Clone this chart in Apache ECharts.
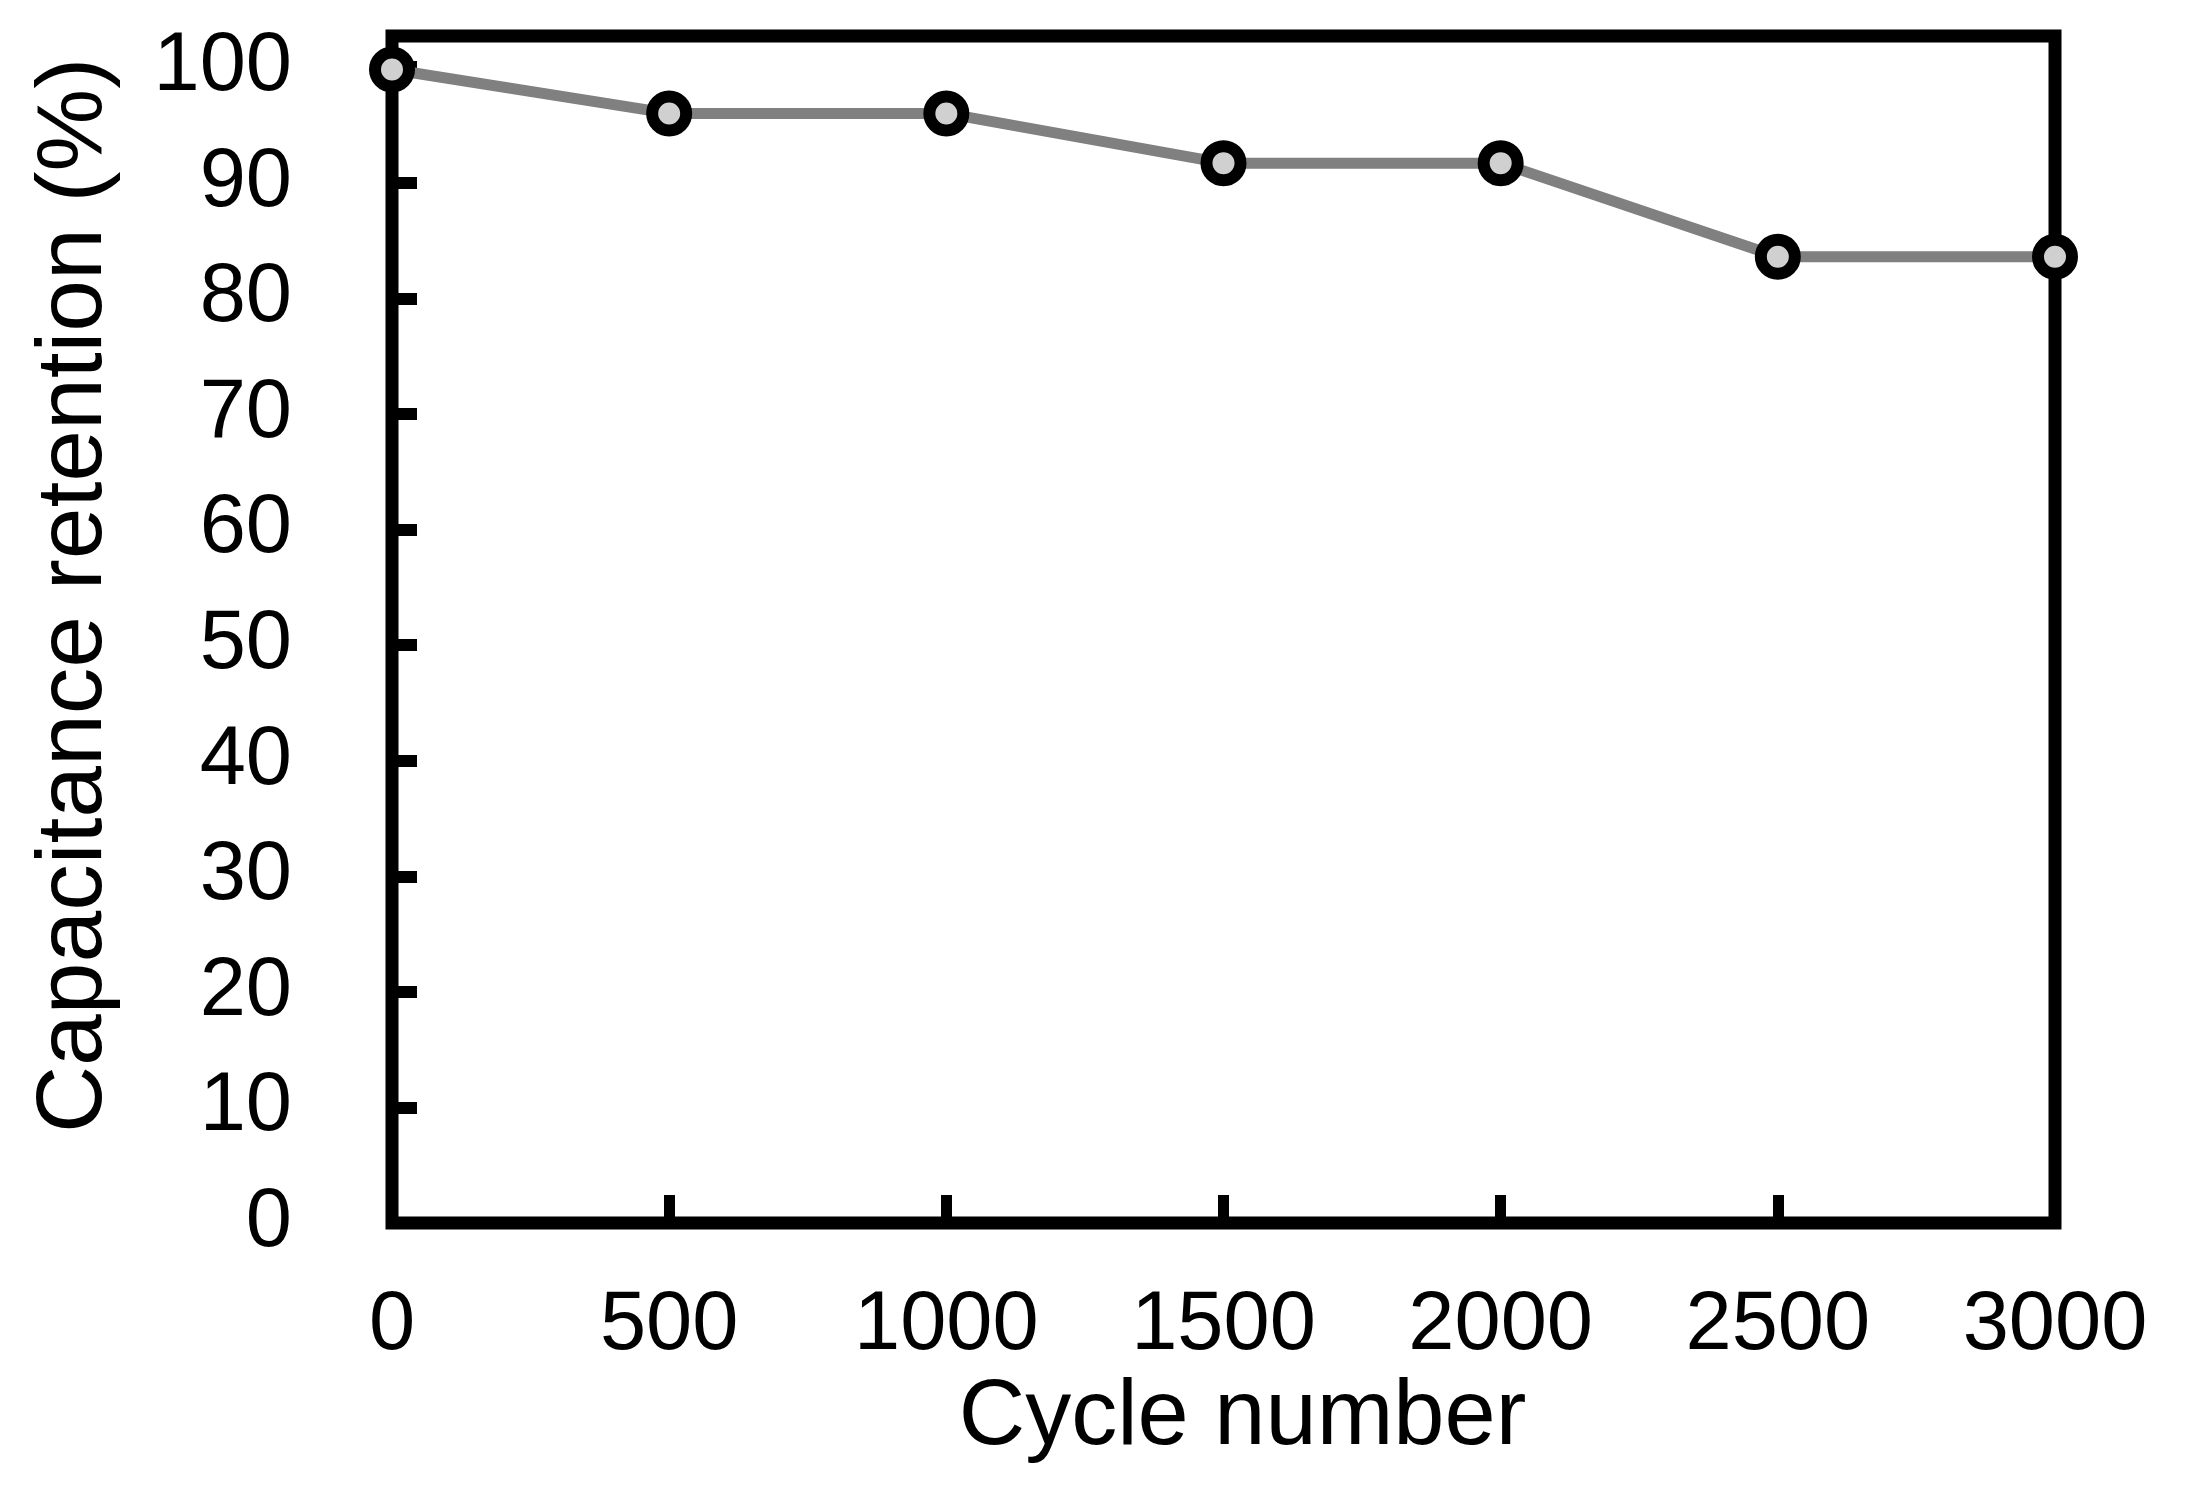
<!DOCTYPE html>
<html>
<head>
<meta charset="utf-8">
<script src="https://cdn.jsdelivr.net/npm/echarts@6/dist/echarts.min.js"></script>
<style>
html,body{margin:0;padding:0;background:#fff;}
#chart{width:2189px;height:1491px;}
</style>
</head>
<body>
<div id="chart"></div>
<script>
var cycles = [0, 500, 1000, 1500, 2000, 2500, 3000];
var retention = [99.8, 96.0, 96.0, 91.7, 91.7, 83.6, 83.6];
var xTitle = 'Cycle number';
var yTitle = 'Capacitance retention (%)';

var chart = echarts.init(document.getElementById('chart'));
var font = 'Liberation Sans, Arial, sans-serif';
chart.setOption({
  animation: false,
  backgroundColor: '#ffffff',
  grid: {
    left: 392, right: 134, top: 36, bottom: 268,
    show: true, borderColor: '#000', borderWidth: 13, backgroundColor: 'transparent'
  },
  xAxis: {
    type: 'value', min: 0, max: 3000, interval: 500,
    name: xTitle, nameLocation: 'middle', nameGap: 150,
    nameTextStyle: { fontFamily: font, fontSize: 92, color: '#000', padding: [0, 0, 0, 38] },
    axisLine: { show: false },
    axisTick: { show: true, inside: true, length: 28, lineStyle: { color: '#000', width: 11 } },
    axisLabel: { fontFamily: font, fontSize: 83, color: '#000', margin: 62,
      formatter: function (v) { return String(v); } },
    splitLine: { show: false }
  },
  yAxis: {
    type: 'value', min: 0, max: 102.7, interval: 10,
    name: yTitle, nameLocation: 'middle', nameGap: 270, nameRotate: 90,
    nameTextStyle: { fontFamily: font, fontSize: 93, color: '#000', padding: [0, 0, 0, 68] },
    axisLine: { show: false },
    axisTick: { show: true, inside: true, length: 25, lineStyle: { color: '#000', width: 12 } },
    axisLabel: {
      fontFamily: font, fontSize: 83, color: '#000', margin: 100,
      formatter: function (v) { return (Math.abs(v % 10) < 1e-6) ? String(v) : ''; }
    },
    splitLine: { show: false }
  },
  series: [{
    type: 'line',
    data: cycles.map(function (c, i) { return [c, retention[i]]; }),
    symbol: 'circle', symbolSize: 34,
    lineStyle: { color: '#808080', width: 11 },
    itemStyle: { color: '#d0d0d0', borderColor: '#000', borderWidth: 12 },
    z: 5
  }]
});
</script>
</body>
</html>
